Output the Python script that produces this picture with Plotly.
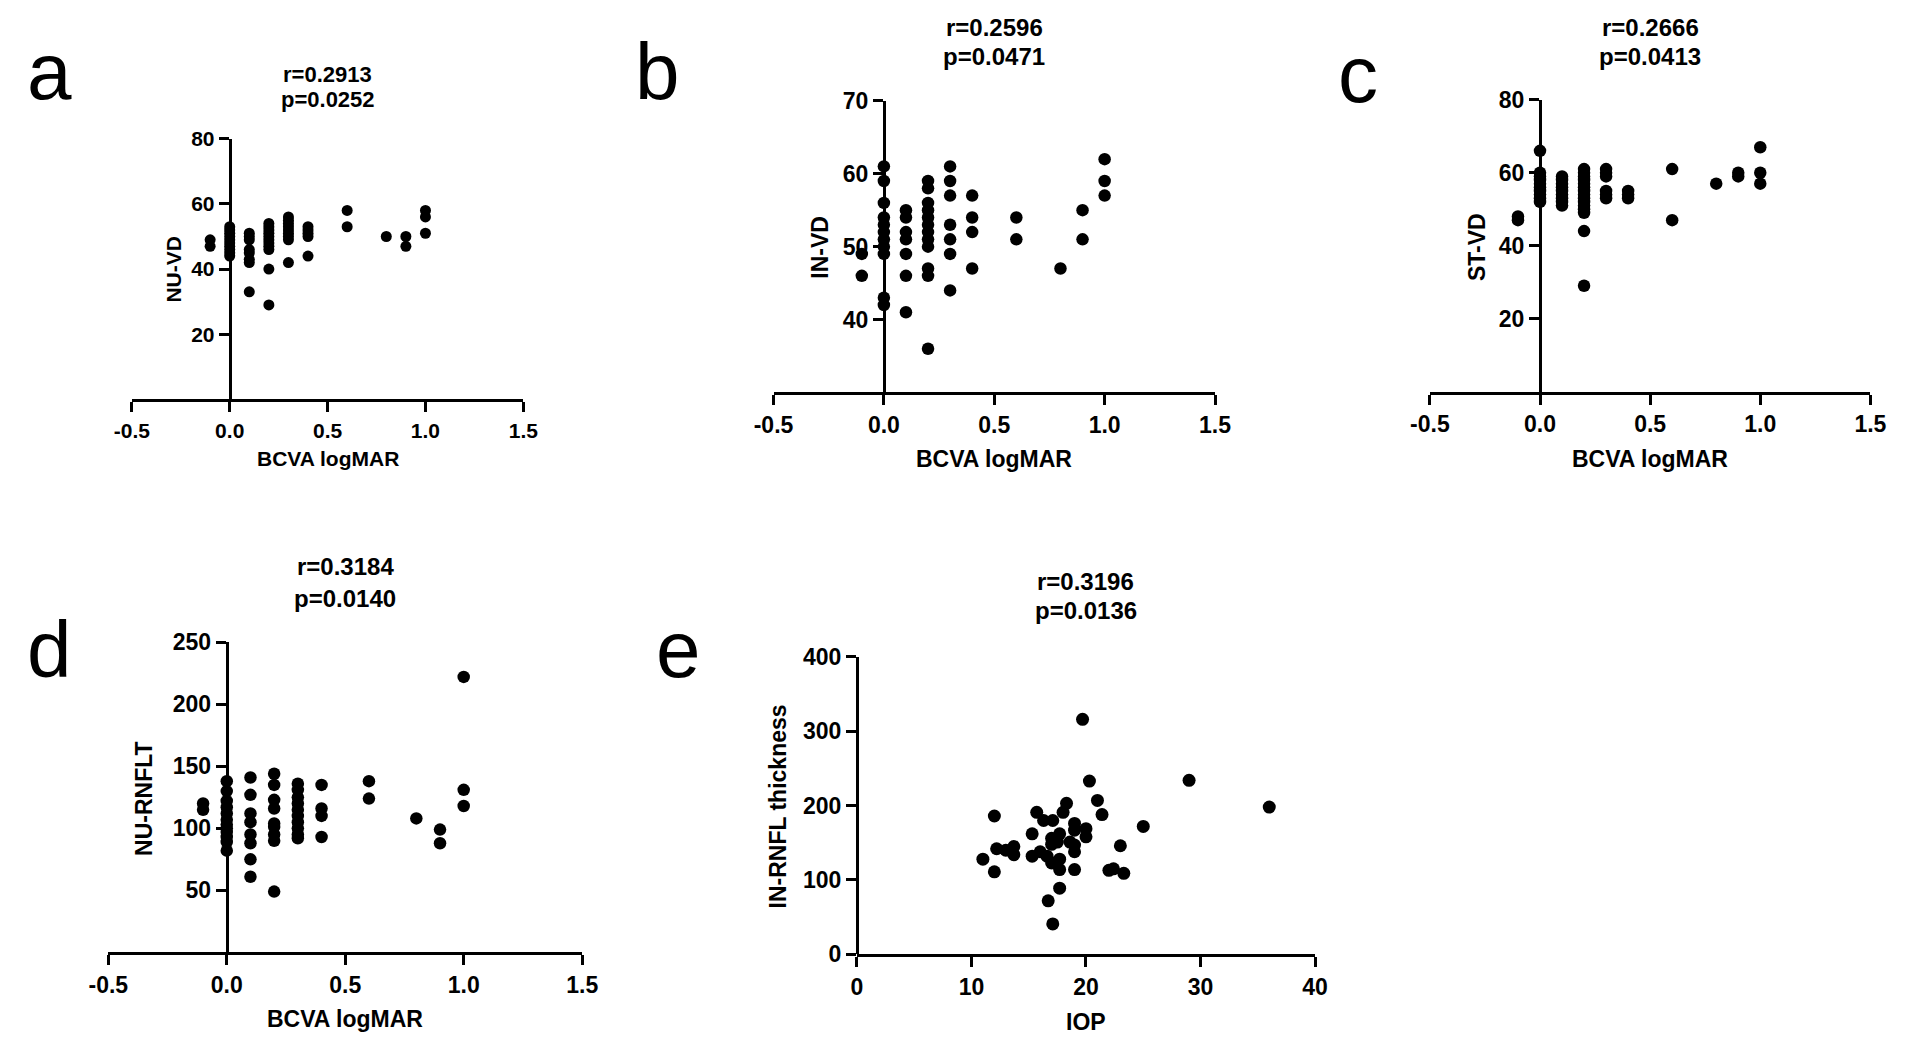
import plotly.graph_objects as go

W, H = 1907, 1062

# ---------------- data ----------------
# Panel a: NU-VD vs BCVA logMAR
a_bcva = [-0.1, -0.1,
          0.0, 0.0, 0.0, 0.0, 0.0, 0.0, 0.0, 0.0, 0.0, 0.0,
          0.1, 0.1, 0.1, 0.1, 0.1, 0.1, 0.1, 0.1,
          0.2, 0.2, 0.2, 0.2, 0.2, 0.2, 0.2, 0.2, 0.2, 0.2, 0.2,
          0.3, 0.3, 0.3, 0.3, 0.3, 0.3, 0.3, 0.3, 0.3,
          0.4, 0.4, 0.4, 0.4, 0.4,
          0.6, 0.6, 0.8, 0.9, 0.9, 1.0, 1.0, 1.0]
a_nuvd = [49, 47,
          53, 52, 51, 50, 49, 48, 47, 46, 45, 44,
          51, 50, 49, 46, 45, 43, 42, 33,
          54, 53, 52, 51, 50, 49, 48, 47, 46, 40, 29,
          56, 55, 54, 53, 52, 51, 50, 49, 42,
          53, 52, 51, 50, 44,
          58, 53, 50, 50, 47, 58, 56, 51]

# Panel b: IN-VD vs BCVA logMAR
b_bcva = [-0.1, -0.1,
          0.0, 0.0, 0.0, 0.0, 0.0, 0.0, 0.0, 0.0, 0.0, 0.0, 0.0,
          0.1, 0.1, 0.1, 0.1, 0.1, 0.1, 0.1,
          0.2, 0.2, 0.2, 0.2, 0.2, 0.2, 0.2, 0.2, 0.2, 0.2, 0.2, 0.2,
          0.3, 0.3, 0.3, 0.3, 0.3, 0.3, 0.3,
          0.4, 0.4, 0.4, 0.4,
          0.6, 0.6, 0.8, 0.9, 0.9, 1.0, 1.0, 1.0]
b_invd = [49, 46,
          61, 59, 56, 54, 53, 52, 51, 50, 49, 43, 42,
          55, 54, 52, 51, 49, 46, 41,
          59, 58, 56, 55, 54, 53, 52, 51, 50, 47, 46, 36,
          61, 59, 57, 53, 51, 49, 44,
          57, 54, 52, 47,
          54, 51, 47, 55, 51, 62, 59, 57]

# Panel c: ST-VD vs BCVA logMAR
c_bcva = [-0.1, -0.1,
          0.0, 0.0, 0.0, 0.0, 0.0, 0.0, 0.0, 0.0, 0.0, 0.0,
          0.1, 0.1, 0.1, 0.1, 0.1, 0.1, 0.1, 0.1, 0.1,
          0.2, 0.2, 0.2, 0.2, 0.2, 0.2, 0.2, 0.2, 0.2, 0.2, 0.2, 0.2, 0.2, 0.2, 0.2,
          0.3, 0.3, 0.3, 0.3, 0.3, 0.3,
          0.4, 0.4, 0.4,
          0.6, 0.6, 0.8, 0.9, 0.9, 1.0, 1.0, 1.0]
c_stvd = [48, 47,
          66, 60, 59, 58, 57, 56, 55, 54, 53, 52,
          59, 58, 57, 56, 55, 54, 53, 52, 51,
          61, 60, 59, 58, 57, 56, 55, 54, 53, 52, 51, 50, 49, 44, 29,
          61, 60, 59, 55, 54, 53,
          55, 54, 53,
          61, 47, 57, 60, 59, 67, 60, 57]

# Panel d: NU-RNFLT vs BCVA logMAR
d_bcva = [-0.1, -0.1,
          0.0, 0.0, 0.0, 0.0, 0.0, 0.0, 0.0, 0.0, 0.0, 0.0, 0.0, 0.0,
          0.1, 0.1, 0.1, 0.1, 0.1, 0.1, 0.1, 0.1,
          0.2, 0.2, 0.2, 0.2, 0.2, 0.2, 0.2, 0.2, 0.2,
          0.3, 0.3, 0.3, 0.3, 0.3, 0.3, 0.3, 0.3, 0.3, 0.3,
          0.4, 0.4, 0.4, 0.4,
          0.6, 0.6, 0.8, 0.9, 0.9, 1.0, 1.0, 1.0]
d_nurnflt = [120, 115,
             138, 130, 122, 117, 112, 107, 103, 100, 97, 93, 89, 82,
             141, 127, 112, 105, 95, 88, 75, 61,
             144, 135, 123, 116, 104, 101, 95, 90, 49,
             136, 131, 125, 120, 115, 110, 105, 100, 95, 92,
             135, 116, 110, 93,
             138, 124, 108, 99, 88, 222, 131, 118]

# Panel e: IN-RNFL thickness vs IOP
e_iop = [20.3, 21.0, 21.4, 12.0, 25.0, 18.3, 18.0, 15.7, 16.3, 17.1,
         19.0, 20.0, 19.0, 15.3, 17.7, 20.0, 17.0, 17.5, 18.6, 17.0,
         19.0, 23.0, 12.2, 13.0, 13.7, 13.7, 16.0, 19.0, 11.0, 15.3,
         16.6, 17.0, 17.7, 17.7, 12.0, 19.0, 22.0, 22.4, 23.3, 17.7,
         16.7, 17.1, 19.7, 29.0, 36.0]
e_inrnfl = [233, 207, 188, 186, 172, 203, 191, 191, 180, 180,
            176, 169, 167, 162, 162, 158, 156, 151, 151, 148,
            147, 146, 142, 140, 145, 134, 138, 138, 128, 132,
            132, 123, 128, 114, 111, 114, 113, 115, 109, 89,
            72, 41, 316, 234, 198]

bcva_ticks = [-0.5, 0.0, 0.5, 1.0, 1.5]
iop_ticks = [0, 10, 20, 30, 40]

panels = [
    dict(letter="a", x=a_bcva, y=a_nuvd, xr=[-0.5, 1.5], yr=[0, 80],
         xt=bcva_ticks, yt=[20, 40, 60, 80], xtitle="BCVA logMAR", ytitle="NU-VD",
         r="r=0.2913", p="p=0.0252",
         box=(114, 513, 129, 396), fs=21, ms=11,
         rp_y=(63, 89), xt_y=457, yt_x=157, yt_y=263, let=(5, 60)),
    dict(letter="b", x=b_bcva, y=b_invd, xr=[-0.5, 1.5], yr=[30, 70],
         xt=bcva_ticks, yt=[40, 50, 60, 70], xtitle="BCVA logMAR", ytitle="IN-VD",
         r="r=0.2596", p="p=0.0471",
         box=(768, 1218, 90, 389), fs=23, ms=12.5,
         rp_y=(15, 45), xt_y=457, yt_x=816, yt_y=240, let=(625, 60)),
    dict(letter="c", x=c_bcva, y=c_stvd, xr=[-0.5, 1.5], yr=[0, 80],
         xt=bcva_ticks, yt=[20, 40, 60, 80], xtitle="BCVA logMAR", ytitle="ST-VD",
         r="r=0.2666", p="p=0.0413",
         box=(1437, 1886, 89, 388), fs=23, ms=12.5,
         rp_y=(15, 45), xt_y=457, yt_x=1485, yt_y=240, let=(1341, 63)),
    dict(letter="d", x=d_bcva, y=d_nurnflt, xr=[-0.5, 1.5], yr=[0, 250],
         xt=bcva_ticks, yt=[50, 100, 150, 200, 250], xtitle="BCVA logMAR", ytitle="NU-RNFLT",
         r="r=0.3184", p="p=0.0140",
         box=(90, 573, 645, 963), fs=23, ms=12.5,
         rp_y=(567, 600), xt_y=1031, yt_x=127, yt_y=805, let=(5, 652)),
    dict(letter="e", x=e_iop, y=e_inrnfl, xr=[0, 40], yr=[0, 400],
         xt=iop_ticks, yt=[0, 100, 200, 300, 400], xtitle="IOP", ytitle="IN-RNFL thickness",
         r="r=0.3196", p="p=0.0136",
         box=(853, 1320, 660, 965), fs=23, ms=13,
         rp_y=(583, 613), xt_y=1034, yt_x=773, yt_y=813, let=(646, 652)),
]

FAM = "Liberation Sans, Arial, Helvetica, sans-serif"


def px(xp):
    return xp / W


def py(yp):
    return 1 - yp / H


fig = go.Figure()
layout = dict(width=W, height=H, margin=dict(l=0, r=0, t=0, b=0),
              paper_bgcolor="white", plot_bgcolor="white", showlegend=False,
              font=dict(family=FAM, color="black"))
annotations = []

for i, pnl in enumerate(panels, start=1):
    sfx = "" if i == 1 else str(i)
    x0, x1, y0, y1 = pnl["box"]
    xdom = [px(x0), px(x1)]
    ydom = [py(y1), py(y0)]
    xr = pnl["xr"]
    cross = 0 if xr[0] < 0 < xr[1] else xr[0]
    ypos = xdom[0] + (cross - xr[0]) / (xr[1] - xr[0]) * (xdom[1] - xdom[0])
    fs = pnl["fs"]
    tickfont = dict(family=FAM, size=fs, color="black", weight="bold")

    fig.add_trace(go.Scatter(
        x=pnl["x"], y=pnl["y"], mode="markers",
        marker=dict(color="black", size=pnl["ms"], line=dict(width=0)),
        xaxis="x" + sfx, yaxis="y" + sfx, cliponaxis=False,
        hoverinfo="x+y"))

    layout["xaxis" + sfx] = dict(
        domain=xdom, range=xr, anchor="y" + sfx, showgrid=False, zeroline=False,
        showline=True, linecolor="black", linewidth=3,
        ticks="outside", ticklen=10, tickwidth=3, tickcolor="black",
        tickmode="array", tickvals=pnl["xt"],
        ticktext=[("%.1f" % v) if pnl["xtitle"] != "IOP" else str(v) for v in pnl["xt"]],
        tickfont=tickfont, fixedrange=True)
    layout["yaxis" + sfx] = dict(
        domain=ydom, range=pnl["yr"], anchor="free", position=ypos,
        showgrid=False, zeroline=False,
        showline=True, linecolor="black", linewidth=3,
        ticks="outside", ticklen=10, tickwidth=3, tickcolor="black",
        tickmode="array", tickvals=pnl["yt"], ticktext=[str(v) for v in pnl["yt"]],
        tickfont=tickfont, fixedrange=True)

    cx = px((x0 + x1) / 2)
    bold = dict(family=FAM, size=fs + 1, color="black", weight="bold")
    annotations.append(dict(text=pnl["r"], x=cx, y=py(pnl["rp_y"][0]), xref="paper", yref="paper",
                            xanchor="center", yanchor="middle", showarrow=False, font=bold))
    annotations.append(dict(text=pnl["p"], x=cx, y=py(pnl["rp_y"][1]), xref="paper", yref="paper",
                            xanchor="center", yanchor="middle", showarrow=False, font=bold))
    annotations.append(dict(text=pnl["xtitle"], x=cx, y=py(pnl["xt_y"]), xref="paper", yref="paper",
                            xanchor="center", yanchor="middle", showarrow=False,
                            font=dict(family=FAM, size=fs, color="black", weight="bold")))
    annotations.append(dict(text=pnl["ytitle"], x=px(pnl["yt_x"]), y=py(pnl["yt_y"]),
                            xref="paper", yref="paper", textangle=-90,
                            xanchor="center", yanchor="middle", showarrow=False,
                            font=dict(family=FAM, size=fs, color="black", weight="bold")))
    annotations.append(dict(text=pnl["letter"], x=px(pnl["let"][0]), y=py(pnl["let"][1]),
                            xref="paper", yref="paper", xanchor="left", yanchor="middle",
                            showarrow=False,
                            font=dict(family=FAM, size=80, color="black", weight="normal")))

layout["annotations"] = annotations
fig.update_layout(**layout)
fig.write_html("out.html",
               config={"displayModeBar": False},
               post_script="document.body.style.margin='0px';"
                           "document.body.style.overflow='hidden';")
